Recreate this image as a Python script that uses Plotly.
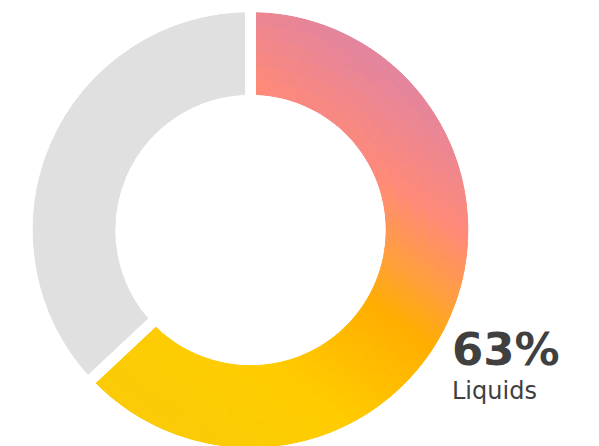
import math
import plotly.graph_objects as go

# ---- data ----
labels = ["Liquids", "Other"]
values = [63, 37]
big_label = "63%"
sub_label = "Liquids"

# ---- style ----
W, H = 599, 460
CX, CY = 250.5, 230.0          # ring centre (px from left / top)
R_OUT, R_IN = 217.5, 135.5     # visible ring radii
GAP = 11
GREY = "#E0E0E0"
TEXT = "#404040"
FONT = "DejaVu Sans, Verdana, sans-serif"
N_ANG = 126                     # angular steps for the gradient
N_RAD = 6                       # radial bands for the gradient
U = (0.58, -0.81)               # gradient direction (screen coords)
STOPS = [(-240, (248, 203, 8)), (-100, (255, 204, 0)), (10, (255, 174, 0)),
         (60, (255, 158, 64)), (118, (255, 138, 120)), (180, (236, 134, 146)),
         (250, (216, 131, 172))]


def grad(t):
    if t <= STOPS[0][0]:
        c = STOPS[0][1]
    elif t >= STOPS[-1][0]:
        c = STOPS[-1][1]
    else:
        for (t0, c0), (t1, c1) in zip(STOPS[:-1], STOPS[1:]):
            if t0 <= t <= t1:
                f = (t - t0) / (t1 - t0)
                c = tuple(a + (b - a) * f for a, b in zip(c0, c1))
                break
    return "rgb(%d,%d,%d)" % tuple(round(v) for v in c)


def domain(R):
    return dict(x=[(CX - R) / W, (CX + R) / W],
                y=[(H - CY - R) / H, (H - CY + R) / H])


total = sum(values)
fig = go.Figure()
band = (R_OUT - R_IN) / N_RAD
for k in range(N_RAD):
    ro = R_OUT - k * band
    ri = ro - band
    rm = (ro + ri) / 2
    vals, cols = [], []
    step = values[0] / N_ANG
    for i in range(N_ANG):
        th = math.radians((i + 0.5) * step / total * 360)
        t = rm * (U[0] * math.sin(th) - U[1] * math.cos(th))
        vals.append(step)
        cols.append(grad(t))
    vals.append(values[1])
    cols.append(GREY)
    fig.add_trace(go.Pie(
        values=vals, sort=False, direction="clockwise", rotation=0,
        hole=ri / ro, domain=domain(ro),
        marker=dict(colors=cols, line=dict(color=cols, width=1)),
        textinfo="none", hoverinfo="skip", showlegend=False,
    ))

# gap separators between the two real slices
RG_O, RG_I = R_OUT + 6, R_IN - 6
fig.add_trace(go.Pie(
    labels=labels, values=values, sort=False, direction="clockwise", rotation=0,
    hole=RG_I / RG_O, domain=domain(RG_O),
    marker=dict(colors=["rgba(0,0,0,0)"] * 2, line=dict(color="white", width=GAP)),
    textinfo="none", hoverinfo="skip", showlegend=False,
))

fig.add_annotation(
    text="<span style='font-size:45px'><b>%s</b></span><br>"
         "<span style='font-size:24px'>%s</span>" % (big_label, sub_label),
    xref="paper", yref="paper", x=449.5 / W, y=1 - 321 / H,
    xanchor="left", yanchor="top", align="left", showarrow=False,
    font=dict(family=FONT, size=26, color=TEXT))

fig.update_layout(width=W, height=H, margin=dict(l=0, r=0, t=0, b=0),
                  paper_bgcolor="white", plot_bgcolor="white")

fig.write_html("out.html", config={"displayModeBar": False},
               post_script="document.body.style.margin='0';document.body.style.overflow='hidden';")
